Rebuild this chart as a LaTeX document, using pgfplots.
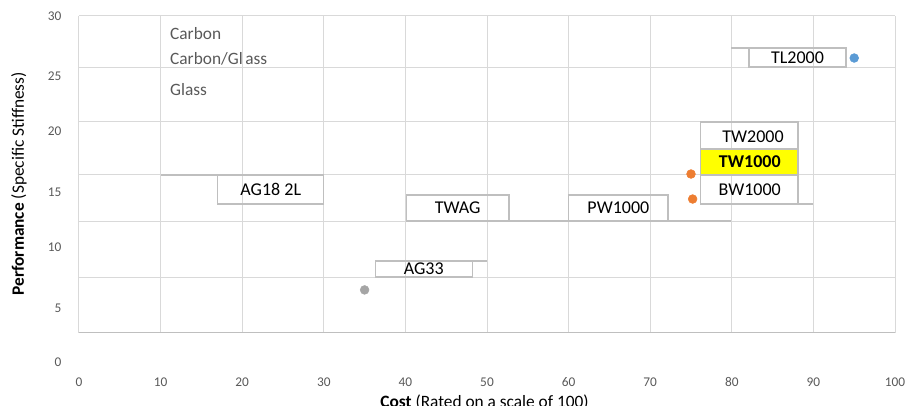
\documentclass[border=0pt]{standalone}
\usepackage{pgfplots}
\pgfplotsset{compat=1.18}
\usepackage{fontspec}
\setmainfont{Carlito}

\definecolor{gridc}{HTML}{D9D9D9}
\definecolor{boxc}{HTML}{BFBFBF}
\definecolor{tickc}{HTML}{595959}
\definecolor{carbon}{HTML}{5B9BD5}
\definecolor{hybrid}{HTML}{ED7D31}
\definecolor{glass}{HTML}{A5A5A5}
\definecolor{hilite}{HTML}{FFFF00}

\begin{document}
\begin{tikzpicture}
\useasboundingbox (-59.25pt,-55pt) rectangle (630pt,249.5pt);
\begin{axis}[
  at={(0,0)}, anchor=south west,
  scale only axis, width=612pt, height=237.5pt,
  xmin=0, xmax=100, ymin=0, ymax=30,
  axis line style={draw=none},
  tick style={draw=none},
  xtick={0,10,...,100},
  ytick={0,5.2,10.5,14.95,20,25.1,30},
  yticklabels={,,,,,,},
  grid=major,
  major grid style={gridc, line width=0.75pt},
  /pgf/number format/assume math mode=true,
  xticklabel style={anchor=center, yshift=-37pt, font=\fontsize{10}{12}\selectfont, text=tickc},
  xlabel={\textbf{Cost} (Rated on a scale of 100)},
  xlabel style={at={(axis description cs:0.497,-0.219)}, anchor=center, font=\fontsize{13}{15}\selectfont},
  ylabel={\textbf{Performance} (Specific Stiffness)},
  ylabel style={at={(axis description cs:-0.0735,0.47)}, anchor=center, font=\fontsize{13}{15}\selectfont},
  clip=false,
]

% axis base line
\draw[boxc, line width=0.9pt] (axis cs:0,0) -- (axis cs:100,0);

% y tick labels (offset from the grid as in the reference)
\begin{scope}[every node/.style={anchor=east, xshift=-9.75pt, text=tickc, font=\fontsize{10}{12}\selectfont}]
\node at (axis cs:0,29.98) {30};
\node at (axis cs:0,24.32) {25};
\node at (axis cs:0,19.11) {20};
\node at (axis cs:0,13.33) {15};
\node at (axis cs:0,8.12) {10};
\node at (axis cs:0,2.34) {5};
\node at (axis cs:0,-2.82) {0};
\end{scope}

% series names (legend without keys)
\begin{scope}[every node/.style={anchor=west, text=tickc, font=\fontsize{13}{15}\selectfont}]
\node at (axis cs:10.6,28.3) {Carbon};
\node at (axis cs:10.6,25.93) {Carbon/Gl\kern2pt ass};
\node at (axis cs:10.6,22.99) {Glass};
\end{scope}

% data label boxes
\fill[hilite] (axis cs:76.2,17.40) rectangle (axis cs:88.1,14.94);
\begin{scope}[boxc, line width=1pt]
\draw (axis cs:82.1,26.97) rectangle (axis cs:94.0,25.17);
\draw (axis cs:79.9,26.97) -- (axis cs:82.1,26.97);
\draw (axis cs:76.2,19.96) rectangle (axis cs:88.1,12.19);
\draw (axis cs:76.2,17.40) -- (axis cs:88.1,17.40);
\draw (axis cs:76.2,14.94) -- (axis cs:88.1,14.94);
\draw (axis cs:88.1,12.19) -- (axis cs:89.95,12.19);
\draw (axis cs:17.0,14.94) rectangle (axis cs:30.0,12.19);
\draw (axis cs:10.05,14.94) -- (axis cs:17.0,14.94);
\draw (axis cs:40.1,13.04) rectangle (axis cs:52.7,10.58);
\draw (axis cs:52.7,10.58) -- (axis cs:59.9,10.58);
\draw (axis cs:60.0,13.04) rectangle (axis cs:72.2,10.58);
\draw (axis cs:72.2,10.58) -- (axis cs:79.9,10.58);
\draw (axis cs:36.3,6.79) rectangle (axis cs:48.2,5.28);
\draw (axis cs:48.2,6.79) -- (axis cs:50.0,6.79);
\end{scope}

\begin{scope}[every node/.style={anchor=center, text=black, font=\fontsize{13.5}{15}\selectfont}]
\node at (axis cs:88.05,26.07) {TL2000};
\node at (axis cs:82.6,18.6) {TW2000};
\node at (axis cs:82.2,16.17) {\textbf{TW1000}};
\node at (axis cs:82.2,13.5) {BW1000};
\node at (axis cs:23.5,13.56) {AG18 2L};
\node at (axis cs:46.4,11.81) {TWAG};
\node at (axis cs:66.1,11.81) {PW1000};
\node at (axis cs:42.25,6.03) {AG33};
\end{scope}

% Carbon
\addplot[only marks, mark=*, mark size=3.3pt, draw=carbon, fill=carbon] coordinates {(95,26.02)};
% Carbon/Glass
\addplot[only marks, mark=*, mark size=3.3pt, draw=hybrid, fill=hybrid] coordinates {(75,15.03) (75.2,12.66)};
% Glass
\addplot[only marks, mark=*, mark size=3.3pt, draw=glass, fill=glass] coordinates {(35,4.05)};

\end{axis}
\end{tikzpicture}
\end{document}
